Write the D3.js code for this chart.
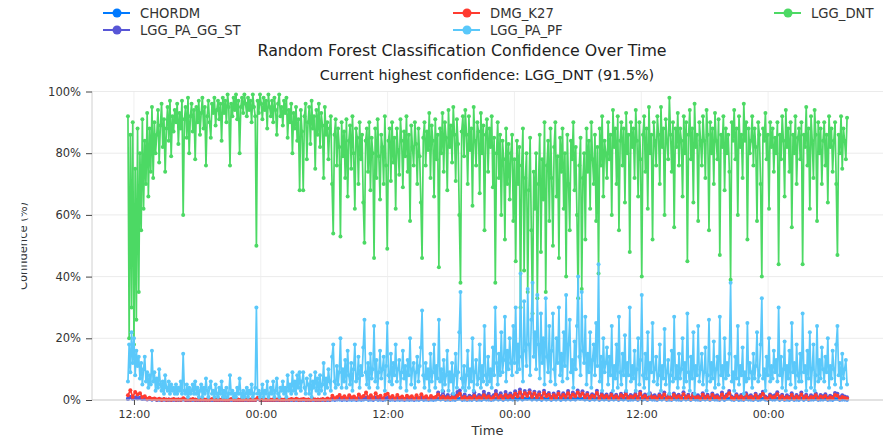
<!DOCTYPE html>
<html>
<head>
<meta charset="utf-8">
<script src="https://cdn.jsdelivr.net/npm/d3@7"></script>
<style>
  html, body { margin: 0; padding: 0; background: #fff; }
  svg { display: block; font-family: "DejaVu Sans", sans-serif; }
</style>
</head>
<body>
<svg id="chart" width="883" height="438"></svg>
<script>
// ---------------- DATA ----------------
const seriesNames = ["CHORDM", "DMG_K27", "LGG_DNT", "LGG_PA_GG_ST", "LGG_PA_PF"];
const seriesColors = ["#007AFF", "#FF3B30", "#4CD964", "#5856D6", "#5AC8FA"];
const startTime = new Date(2024, 0, 1, 11, 26);
const endTime = new Date(2024, 0, 4, 7, 28);
const yTicks = [0, 20, 40, 60, 80, 100];
const titleText = "Random Forest Classification Confidence Over Time";
const subtitleText = "Current highest confidence: LGG_DNT (91.5%)";

const LGG_DNT = [
  92, 20, 86, 30, 90, 18, 75, 26, 88, 35, 80, 55, 91, 62, 84, 70, 93, 66, 88, 74,
  95, 72, 90, 80, 86, 94, 77, 89, 96, 82, 91, 74, 88, 95, 84, 97, 79, 92, 87, 94,
  90, 96, 83, 93, 88, 97, 60, 91, 95, 85, 98, 80, 92, 96, 87, 94, 78, 95, 90, 97,
  86, 93, 98, 88, 95, 76, 92, 97, 90, 85, 96, 93, 98, 89, 94, 97, 91, 96, 84, 98,
  93, 97, 90, 99, 95, 76, 96, 92, 98, 94, 99, 91, 97, 80, 95, 98, 93, 99, 96, 92,
  98, 94, 97, 90, 99, 95, 92, 50, 97, 93, 99, 96, 91, 98, 94, 97, 88, 99, 95, 92,
  97, 90, 98, 94, 86, 96, 99, 92, 95, 89, 97, 93, 98, 85, 94, 90, 96, 80, 93, 88,
  95, 84, 91, 68, 94, 87, 68, 92, 96, 78, 90, 95, 83, 97, 88, 92, 75, 94, 86, 96,
  82, 93, 89, 72, 95, 86, 90, 78, 88, 92, 70, 54, 86, 91, 76, 88, 82, 53, 90, 79,
  87, 72, 91, 66, 84, 89, 75, 92, 80, 62, 88, 85, 70, 90, 78, 86, 64, 51, 84, 88,
  74, 90, 68, 85, 80, 46, 88, 72, 91, 79, 65, 86, 82, 70, 92, 76, 49, 84, 88, 71,
  90, 77, 85, 62, 88, 81, 73, 91, 84, 69, 87, 79, 92, 74, 86, 58, 89, 82, 76, 90,
  83, 70, 88, 79, 64, 46, 85, 90, 76, 87, 81, 93, 72, 89, 84, 66, 91, 78, 86, 43,
  88, 80, 93, 74, 90, 85, 68, 94, 82, 89, 77, 95, 86, 71, 91, 83, 60, 38, 87, 92,
  79, 94, 86, 70, 92, 81, 88, 63, 95, 84, 76, 90, 87, 67, 93, 80, 89, 55, 86, 91,
  74, 88, 82, 92, 69, 85, 38, 80, 90, 72, 86, 60, 84, 78, 52, 88, 70, 83, 65, 80,
  86, 58, 78, 45, 84, 70, 82, 30, 76, 88, 42, 72, 80, 35, 68, 85, 55, 28, 74, 62,
  80, 33, 70, 86, 48, 78, 65, 90, 35, 76, 84, 58, 88, 72, 50, 82, 90, 66, 79, 46,
  85, 74, 88, 62, 80, 40, 86, 70, 55, 84, 78, 90, 68, 82, 60, 33, 76, 85, 36, 72,
  80, 52, 88, 74, 84, 62, 90, 78, 70, 86, 58, 82, 41, 88, 76, 92, 66, 84, 80, 72,
  90, 78, 86, 60, 94, 82, 88, 70, 92, 55, 84, 90, 76, 88, 64, 93, 80, 86, 48, 90,
  82, 88, 72, 94, 84, 66, 90, 78, 40, 86, 92, 74, 88, 62, 95, 80, 86, 52, 90, 84,
  76, 92, 86, 70, 95, 82, 88, 60, 91, 84, 78, 98, 86, 74, 90, 56, 88, 82, 93, 76,
  88, 84, 66, 92, 80, 90, 45, 86, 94, 78, 88, 64, 96, 82, 86, 58, 90, 84, 76, 92,
  84, 72, 94, 86, 55, 90, 80, 88, 70, 93, 84, 78, 91, 47, 86, 82, 92, 68, 88, 80,
  86, 74, 39, 90, 84, 94, 78, 88, 60, 92, 82, 86, 72, 96, 84, 90, 52, 88, 80, 84,
  92, 76, 88, 82, 58, 90, 86, 70, 40, 88, 84, 93, 78, 86, 62, 90, 82, 88, 74, 85,
  80, 90, 44, 86, 78, 92, 84, 66, 94, 82, 88, 74, 90, 56, 86, 80, 92, 70, 85, 88,
  78, 90, 44, 86, 82, 95, 76, 88, 62, 92, 84, 72, 94, 86, 58, 90, 80, 88, 70, 84,
  90, 76, 86, 64, 92, 82, 88, 74, 84, 90, 70, 47, 86, 80, 92, 75, 88, 84, 78, 91.5
];

const LGG_PA_PF = [
  6, 18, 9, 22, 12, 20, 8, 16, 11, 14, 7, 12, 5, 10, 14, 6, 9, 4, 8, 5,
  16, 6, 9, 3, 7, 4, 10, 5, 3, 6, 2, 8, 4, 3, 6, 2, 5, 3, 4, 2,
  5, 2, 4, 3, 6, 2, 15, 3, 2, 5, 1, 4, 2, 3, 5, 2, 6, 2, 4, 1,
  3, 5, 1, 4, 2, 7, 3, 1, 4, 6, 2, 3, 1, 5, 2, 1, 4, 2, 6, 1,
  3, 1, 4, 1, 2, 8, 2, 3, 1, 2, 1, 4, 2, 7, 2, 1, 3, 1, 2, 4,
  1, 3, 2, 5, 1, 2, 4, 30, 2, 3, 1, 2, 5, 1, 3, 2, 6, 1, 2, 4,
  2, 6, 1, 3, 7, 2, 1, 4, 3, 6, 2, 4, 1, 8, 3, 5, 2, 9, 3, 6,
  2, 8, 4, 9, 3, 6, 9, 4, 2, 7, 5, 2, 8, 1, 6, 4, 9, 3, 7, 2,
  8, 3, 5, 12, 2, 7, 4, 10, 6, 3, 14, 18, 6, 4, 11, 5, 9, 20, 4, 10,
  6, 13, 4, 16, 8, 5, 12, 3, 10, 18, 6, 7, 14, 4, 11, 8, 17, 26, 9, 5,
  12, 4, 15, 7, 10, 24, 6, 13, 4, 9, 16, 7, 10, 14, 3, 11, 25, 8, 6, 15,
  5, 12, 8, 18, 6, 10, 13, 4, 9, 16, 7, 11, 3, 13, 8, 20, 5, 10, 12, 4,
  9, 14, 6, 11, 17, 29, 8, 4, 12, 7, 10, 3, 15, 6, 9, 18, 4, 11, 7, 26,
  6, 10, 3, 13, 5, 8, 16, 3, 9, 6, 12, 2, 8, 15, 4, 9, 22, 35, 7, 4,
  11, 3, 8, 16, 4, 10, 6, 20, 3, 9, 13, 5, 7, 18, 4, 11, 6, 24, 8, 5,
  14, 6, 10, 4, 17, 8, 30, 12, 5, 15, 8, 22, 9, 13, 27, 6, 16, 10, 20, 12,
  8, 24, 12, 30, 9, 18, 10, 41, 14, 6, 32, 16, 11, 36, 18, 8, 26, 38, 14, 22,
  10, 34, 18, 7, 28, 12, 20, 5, 33, 14, 9, 24, 6, 16, 28, 10, 5, 20, 12, 30,
  8, 15, 6, 22, 11, 34, 7, 18, 26, 9, 13, 4, 19, 10, 24, 40, 14, 8, 35, 16,
  12, 27, 5, 15, 9, 22, 4, 13, 18, 8, 25, 11, 44, 6, 14, 3, 20, 9, 12, 17,
  5, 14, 8, 24, 3, 11, 7, 18, 4, 27, 9, 5, 15, 8, 21, 3, 12, 8, 30, 6,
  11, 7, 16, 3, 10, 20, 5, 13, 34, 8, 4, 15, 7, 22, 2, 12, 9, 25, 6, 10,
  14, 5, 8, 18, 3, 11, 7, 23, 5, 9, 13, 2, 8, 16, 6, 27, 7, 11, 4, 15,
  7, 10, 20, 4, 12, 6, 28, 9, 3, 14, 7, 22, 2, 11, 8, 24, 6, 10, 15, 5,
  9, 17, 3, 8, 26, 6, 12, 7, 19, 4, 10, 14, 5, 27, 8, 11, 4, 20, 7, 12,
  8, 15, 38, 6, 9, 3, 14, 7, 24, 5, 11, 8, 17, 2, 9, 6, 25, 7, 12, 9,
  4, 15, 7, 11, 22, 6, 8, 18, 33, 7, 10, 3, 14, 8, 20, 6, 11, 7, 16, 9,
  13, 6, 30, 8, 14, 4, 10, 19, 3, 11, 7, 16, 5, 25, 9, 12, 4, 18, 8, 6,
  15, 6, 28, 9, 11, 3, 16, 7, 22, 4, 10, 18, 3, 8, 24, 6, 13, 7, 17, 10,
  6, 14, 9, 20, 4, 11, 7, 16, 10, 5, 18, 24, 8, 12, 4, 15, 7, 10, 13, 5
];

const DMG_K27 = [
  1.5, 3.2, 1.0, 2.6, 1.8, 2.2, 0.9, 1.2, 0.4, 0.7,
  0.3, 0.5, 0.2, 0.4, 0.1, 0.3, 0.1, 0.2, 0.1, 0.3,
  0.1, 0.2, 0.1, 0.6, 0.1, 0.2, 0.1, 0.3, 0.1, 0.2,
  0.1, 0.2, 0.1, 0.1, 0.1, 0.3, 0.1, 0.1, 0.1, 0.2,
  0.1, 0.1, 0.1, 0.3, 0.1, 0.1, 0.1, 0.1, 0.1, 0.2,
  0.1, 0.1, 0.1, 0.1, 0.7, 0.1, 0.1, 0.1, 0.1, 0.1,
  0.1, 0.1, 0.2, 0.1, 0.1, 0.1, 0.2, 0.1, 0.3, 0.1,
  0.4, 0.1, 0.2, 0.3, 0.1, 0.2, 0.1, 0.3, 0.1, 0.2,
  0.1, 0.3, 0.1, 0.5, 0.2, 1.4, 0.6, 1.0, 1.6, 0.7,
  1.2, 0.5, 1.5, 0.8, 1.1, 0.4, 1.8, 0.9, 1.3, 2.4,
  0.8, 1.5, 0.6, 2.2, 1.0, 1.4, 0.5, 1.7, 2.0, 0.8,
  1.3, 0.5, 1.6, 0.7, 1.1, 0.4, 1.4, 0.8, 1.2, 0.5,
  1.5, 0.6, 1.9, 0.8, 1.2, 0.4, 1.3, 0.7, 1.0, 1.8,
  0.6, 1.1, 0.4, 0.9, 0.3, 1.0, 0.6, 1.4, 2.0, 0.5,
  1.0, 0.3, 0.8, 0.5, 1.3, 0.4, 0.9, 0.6, 1.5, 0.7,
  1.1, 0.4, 0.9, 1.8, 0.7, 1.3, 0.5, 1.6, 0.9, 1.4,
  0.8, 2.0, 1.1, 2.5, 0.9, 2.2, 1.3, 2.4, 1.0, 2.1,
  0.9, 1.8, 0.6, 2.3, 1.2, 1.7, 0.5, 1.5, 0.8, 2.0,
  0.7, 1.6, 1.0, 2.2, 0.8, 1.8, 1.1, 2.4, 1.3, 2.1,
  0.9, 1.7, 0.6, 1.4, 1.0, 2.3, 0.5, 1.5, 0.8, 1.3,
  0.5, 1.6, 0.7, 1.2, 0.4, 1.5, 0.9, 1.8, 0.6, 1.1,
  0.8, 1.5, 0.4, 2.1, 0.7, 1.3, 0.3, 1.7, 0.8, 1.0,
  0.4, 1.4, 0.7, 1.8, 0.3, 1.1, 0.3, 1.6, 0.8, 1.2,
  0.5, 1.9, 0.6, 1.2, 0.3, 1.5, 0.8, 1.0, 0.4, 1.7,
  0.6, 1.2, 0.3, 1.6, 0.8, 1.0, 0.4, 1.8, 0.6, 1.3,
  2.2, 0.7, 0.3, 1.4, 0.6, 1.1, 0.3, 1.6, 0.7, 1.0,
  0.4, 1.5, 0.6, 1.1, 2.0, 0.7, 0.3, 1.3, 0.8, 1.0,
  1.9, 0.5, 1.2, 0.3, 1.0, 0.6, 1.6, 0.4, 1.1, 0.6,
  1.8, 0.5, 1.2, 0.3, 1.0, 0.7, 1.5, 0.4, 1.1, 0.8,
  1.3, 0.4, 0.9, 0.6, 1.6, 1.4, 0.4, 1.0, 0.7, 0.5
];

const LGG_PA_GG_ST = [
  0.3, 0.9, 0.4, 0.7, 0.5, 0.6, 0.3, 0.4, 0.2, 0.3,
  0.2, 0.3, 0.1, 0.2, 0.1, 0.2, 0.1, 0.2, 0.1, 0.1,
  0.1, 0.2, 0.1, 0.3, 0.1, 0.1, 0.1, 0.2, 0.1, 0.1,
  0.1, 0.1, 0.1, 0.2, 0.1, 0.1, 0.1, 0.1, 0.1, 0.1,
  0.1, 0.1, 0.1, 0.2, 0.1, 0.1, 0.1, 0.1, 0.1, 0.1,
  0.1, 0.1, 0.1, 0.1, 0.4, 0.1, 0.1, 0.1, 0.1, 0.1,
  0.1, 0.1, 0.1, 0.1, 0.1, 0.1, 0.1, 0.1, 0.2, 0.1,
  0.2, 0.1, 0.1, 0.2, 0.1, 0.1, 0.1, 0.2, 0.1, 0.1,
  0.1, 0.2, 0.1, 0.2, 0.1, 0.5, 0.2, 0.3, 0.6, 0.2,
  0.4, 0.2, 0.5, 0.3, 0.4, 0.2, 0.6, 0.3, 0.4, 0.8,
  0.3, 0.5, 0.2, 0.7, 0.3, 0.5, 0.2, 0.6, 0.7, 0.3,
  0.5, 0.2, 0.6, 0.3, 0.4, 0.2, 0.5, 0.3, 0.5, 0.2,
  0.6, 0.3, 0.8, 0.4, 0.6, 0.3, 0.7, 0.5, 0.8, 2.4,
  1.0, 2.8, 0.9, 1.6, 0.7, 1.9, 1.1, 2.6, 3.1, 0.9,
  1.8, 0.7, 1.4, 1.0, 2.5, 0.8, 1.6, 1.1, 2.7, 1.2,
  2.0, 0.9, 1.5, 2.9, 1.3, 2.2, 0.8, 2.6, 1.4, 2.1,
  1.2, 2.8, 1.6, 3.4, 1.3, 2.9, 1.8, 3.2, 1.5, 2.7,
  1.3, 2.5, 1.0, 3.0, 1.6, 2.3, 0.9, 2.1, 1.2, 2.6,
  1.1, 2.2, 1.4, 2.9, 1.2, 2.4, 1.5, 3.1, 1.7, 2.8,
  1.3, 2.3, 1.0, 1.9, 1.4, 3.0, 0.9, 2.0, 1.2, 1.8,
  0.9, 2.1, 1.1, 1.7, 0.8, 2.0, 1.3, 2.4, 1.0, 1.6,
  1.2, 2.0, 0.8, 2.7, 1.1, 1.8, 0.7, 2.2, 1.2, 1.5,
  0.8, 1.9, 1.1, 2.4, 0.7, 1.6, 0.7, 2.1, 1.2, 1.7,
  0.9, 2.5, 1.0, 1.7, 0.7, 2.0, 1.2, 1.5, 0.8, 2.2,
  1.0, 1.7, 0.7, 2.1, 1.2, 1.5, 0.8, 2.4, 1.0, 1.8,
  2.9, 1.1, 0.7, 1.9, 1.0, 1.6, 0.7, 2.2, 1.1, 1.5,
  0.8, 2.0, 1.0, 1.6, 2.7, 1.1, 0.7, 1.8, 1.2, 1.5,
  2.5, 0.9, 1.7, 0.7, 1.5, 1.0, 2.2, 0.8, 1.6, 1.0,
  2.4, 0.9, 1.7, 0.7, 1.5, 1.1, 2.1, 0.8, 1.6, 1.2,
  1.9, 0.8, 1.4, 1.0, 2.3, 2.0, 0.8, 1.5, 1.1, 0.9
];

const CHORDM = [
  0.4, 1.0, 0.5, 0.8, 0.6, 0.7, 0.4, 0.5, 0.3, 0.4,
  0.2, 0.3, 0.1, 0.2, 0.1, 0.2, 0.1, 0.1, 0.1, 0.2,
  0.1, 0.1, 0.1, 0.2, 0.1, 0.1, 0.1, 0.1, 0.1, 0.1,
  0.1, 0.1, 0.1, 0.1, 0.1, 0.1, 0.1, 0.1, 0.1, 0.1,
  0.1, 0.1, 0.1, 0.1, 0.1, 0.1, 0.1, 0.1, 0.1, 0.1,
  0.1, 0.1, 0.1, 0.1, 0.3, 0.1, 0.1, 0.1, 0.1, 0.1,
  0.1, 0.1, 0.1, 0.1, 0.1, 0.1, 0.1, 0.1, 0.1, 0.1,
  0.1, 0.1, 0.1, 0.1, 0.1, 0.1, 0.1, 0.1, 0.1, 0.1,
  0.1, 0.1, 0.1, 0.1, 0.1, 0.2, 0.1, 0.2, 0.2, 0.1,
  0.2, 0.1, 0.2, 0.1, 0.2, 0.1, 0.2, 0.1, 0.2, 0.3,
  0.1, 0.2, 0.1, 0.3, 0.1, 0.2, 0.1, 0.2, 0.3, 0.1,
  0.2, 0.1, 0.2, 0.1, 0.2, 0.1, 0.2, 0.1, 0.2, 0.1,
  0.2, 0.1, 0.3, 0.1, 0.2, 0.1, 0.2, 0.1, 0.2, 0.3,
  0.2, 0.3, 0.1, 0.2, 0.1, 0.2, 0.1, 0.3, 0.4, 0.1,
  0.2, 0.1, 0.2, 0.1, 0.3, 0.1, 0.2, 0.1, 0.3, 0.2,
  0.2, 0.1, 0.2, 0.4, 0.2, 0.3, 0.1, 0.3, 0.2, 0.3,
  0.2, 0.4, 0.2, 0.5, 0.2, 0.4, 0.3, 0.5, 0.2, 0.4,
  0.2, 0.3, 0.1, 0.4, 0.2, 0.3, 0.1, 0.3, 0.2, 0.4,
  0.1, 0.3, 0.2, 0.4, 0.2, 0.3, 0.2, 0.5, 0.3, 0.4,
  0.2, 0.3, 0.1, 0.3, 0.2, 0.4, 0.1, 0.3, 0.2, 0.3,
  0.1, 0.3, 0.2, 0.3, 0.1, 0.3, 0.2, 0.4, 0.1, 0.2,
  0.2, 0.3, 0.1, 0.4, 0.2, 0.3, 0.1, 0.3, 0.2, 0.2,
  0.1, 0.3, 0.2, 0.4, 0.1, 0.2, 0.1, 0.3, 0.2, 0.2,
  0.1, 0.4, 0.2, 0.3, 0.1, 0.3, 0.2, 0.2, 0.1, 0.3,
  0.2, 0.3, 0.1, 0.3, 0.2, 0.2, 0.1, 0.4, 0.1, 0.3,
  0.4, 0.2, 0.1, 0.3, 0.1, 0.2, 0.1, 0.3, 0.2, 0.2,
  0.1, 0.3, 0.1, 0.2, 0.4, 0.2, 0.1, 0.3, 0.2, 0.2,
  0.4, 0.1, 0.3, 0.1, 0.2, 0.1, 0.3, 0.1, 0.2, 0.1,
  0.4, 0.1, 0.3, 0.1, 0.2, 0.2, 0.3, 0.1, 0.2, 0.2,
  0.3, 0.1, 0.2, 0.1, 0.3, 0.3, 0.1, 0.2, 0.2, 0.1
];

const seriesValues = [CHORDM, DMG_K27, LGG_DNT, LGG_PA_GG_ST, LGG_PA_PF];
const drawOrder = [0, 3, 1, 2, 4];

// ---------------- CHART ----------------
const W = 883, H = 438;
const plotLeft = 92, plotRight = 883;
const plotTop = 91.5, plotBottom = 400;

// each series is sampled evenly between startTime and endTime
const timesFor = n => d3.range(n).map(i => new Date(+startTime + i * (endTime - startTime) / (n - 1)));

const pad = (endTime - startTime) * 0.05;
const x = d3.scaleTime()
  .domain([new Date(+startTime - pad), new Date(+endTime + pad)])
  .range([plotLeft, plotRight]);
const y = d3.scaleLinear().domain([0, 100]).range([plotBottom, plotTop]);

const svg = d3.select("#chart");
svg.append("rect").attr("width", W).attr("height", H).attr("fill", "#fff");

const xTicks = x.ticks(d3.timeHour.every(12));

// grid
const grid = svg.append("g");
grid.selectAll(".hg").data(yTicks).join("line")
  .attr("x1", plotLeft).attr("x2", plotRight)
  .attr("y1", d => y(d)).attr("y2", d => y(d))
  .attr("stroke", "#e6e6e6").attr("stroke-width", 0.8);
grid.selectAll(".vg").data(xTicks).join("line")
  .attr("x1", d => x(d)).attr("x2", d => x(d))
  .attr("y1", plotTop).attr("y2", plotBottom)
  .attr("stroke", "#ececec").attr("stroke-width", 0.8);

svg.append("line").attr("x1", plotLeft).attr("x2", plotLeft)
  .attr("y1", plotTop).attr("y2", plotBottom).attr("stroke", "#d0d0d0").attr("stroke-width", 1);

// series
const plot = svg.append("g");
drawOrder.forEach(k => {
  const vals = seriesValues[k];
  const t = timesFor(vals.length);
  const line = d3.line().x((d, i) => x(t[i])).y(d => y(d));
  const g = plot.append("g");
  g.append("path").datum(vals)
    .attr("d", line)
    .attr("fill", "none")
    .attr("stroke", seriesColors[k])
    .attr("stroke-width", 1.7)
    .attr("stroke-linejoin", "round");
  g.selectAll("circle").data(vals).join("circle")
    .attr("cx", (d, i) => x(t[i]))
    .attr("cy", d => y(d))
    .attr("r", 2)
    .attr("fill", seriesColors[k]);
});

svg.append("line").attr("x1", plotLeft).attr("x2", plotRight)
  .attr("y1", plotBottom).attr("y2", plotBottom).attr("stroke", "#cfcfcf").attr("stroke-width", 1);

// axes
const xAxis = svg.append("g").attr("transform", `translate(0,${plotBottom})`)
  .call(d3.axisBottom(x).tickValues(xTicks).tickFormat(d3.timeFormat("%H:%M")).tickSize(5).tickSizeOuter(0));
xAxis.select(".domain").remove();
xAxis.selectAll("line").attr("stroke", "#444");
xAxis.selectAll("text").attr("font-family", "DejaVu Sans").attr("font-size", 11).attr("fill", "#333").attr("dy", "0.9em");

const yAxis = svg.append("g").attr("transform", `translate(${plotLeft},0)`)
  .call(d3.axisLeft(y).tickValues(yTicks).tickFormat(d => d + "%").tickSize(6).tickPadding(5));
yAxis.select(".domain").remove();
yAxis.selectAll("line").attr("stroke", "#444");
yAxis.selectAll("text").attr("font-family", "DejaVu Sans").attr("font-size", 11.5).attr("fill", "#333");

// axis labels
svg.append("text").attr("x", (plotLeft + plotRight) / 2).attr("y", 435)
  .attr("text-anchor", "middle").attr("font-size", 13).attr("fill", "#333").text("Time");

svg.append("clipPath").attr("id", "ylabclip").append("rect")
  .attr("x", 21.5).attr("y", 150).attr("width", 40).attr("height", 200);
svg.append("g").attr("clip-path", "url(#ylabclip)")
  .append("text")
  .attr("transform", "translate(27,246) rotate(-90)")
  .attr("text-anchor", "middle").attr("font-size", 11.5).attr("fill", "#333")
  .text("Confidence (%)");

// titles
svg.append("text").attr("x", 462).attr("y", 56).attr("text-anchor", "middle")
  .attr("font-size", 15.8).attr("fill", "#222").text(titleText);
svg.append("text").attr("x", 487).attr("y", 80).attr("text-anchor", "middle")
  .attr("font-size", 14.4).attr("fill", "#222").text(subtitleText);

// legend (row-major, 3 columns)
const legCols = [103, 453, 774];
const legRows = [13, 30];
const leg = svg.append("g");
seriesNames.forEach((name, k) => {
  const cx = legCols[k % 3], cy = legRows[Math.floor(k / 3)];
  const g = leg.append("g").attr("transform", `translate(${cx},${cy})`);
  g.append("line").attr("x1", 0).attr("x2", 27).attr("y1", 0).attr("y2", 0)
    .attr("stroke", seriesColors[k]).attr("stroke-width", 2);
  g.append("circle").attr("cx", 14).attr("cy", 0).attr("r", 4.5).attr("fill", seriesColors[k]);
  g.append("text").attr("x", 37).attr("y", 0).attr("dy", "0.35em")
    .attr("font-size", 13.2).attr("fill", "#333").text(name);
});
</script>
</body>
</html>
